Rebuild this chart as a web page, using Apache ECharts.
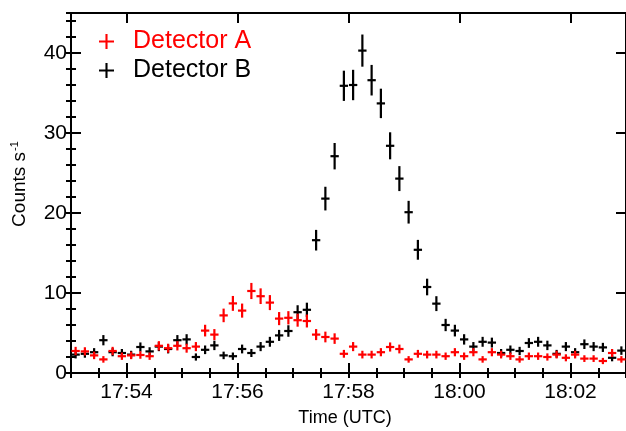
<!DOCTYPE html>
<html>
<head>
<meta charset="utf-8">
<script src="https://cdn.jsdelivr.net/npm/echarts@6/dist/echarts.min.js"></script>
<style>
html,body{margin:0;padding:0;background:#fff;}
#chart{width:626px;height:431px;}
</style>
</head>
<body>
<div id="chart"></div>
<script>
// ---- data (10-s bins) ----
const times = [
 "17:53:05","17:53:15","17:53:25","17:53:35","17:53:45","17:53:55",
 "17:54:05","17:54:15","17:54:25","17:54:35","17:54:45","17:54:55",
 "17:55:05","17:55:15","17:55:25","17:55:35","17:55:45","17:55:55",
 "17:56:05","17:56:15","17:56:25","17:56:35","17:56:45","17:56:55",
 "17:57:05","17:57:15","17:57:25","17:57:35","17:57:45","17:57:55",
 "17:58:05","17:58:15","17:58:25","17:58:35","17:58:45","17:58:55",
 "17:59:05","17:59:15","17:59:25","17:59:35","17:59:45","17:59:55",
 "18:00:05","18:00:15","18:00:25","18:00:35","18:00:45","18:00:55",
 "18:01:05","18:01:15","18:01:25","18:01:35","18:01:45","18:01:55",
 "18:02:05","18:02:15","18:02:25","18:02:35","18:02:45","18:02:55"
];
const detectorA = [
 2.75,2.7,2.2,1.7,2.75,2.1, 2.2,2.25,2.1,3.4,3.1,3.4,
 3.1,3.3,5.3,4.8,7.2,8.7, 7.8,10.25,9.6,8.8,6.8,6.9,
 6.6,6.5,4.8,4.5,4.3,2.4, 3.3,2.3,2.3,2.6,3.25,3.0,
 1.7,2.4,2.3,2.3,2.1,2.6, 2.1,2.6,1.7,2.6,2.3,2.1,
 1.7,2.1,2.1,2.0,2.3,1.9, 2.3,1.8,1.8,1.5,2.5,1.7
];
const detectorAErr = [
 0.52,0.52,0.47,0.41,0.52,0.46, 0.47,0.47,0.46,0.58,0.56,0.58,
 0.56,0.57,0.73,0.69,0.85,0.93, 0.88,1.01,0.98,0.94,0.82,0.83,
 0.81,0.81,0.69,0.67,0.66,0.49, 0.57,0.48,0.48,0.51,0.57,0.55,
 0.41,0.49,0.48,0.48,0.46,0.51, 0.46,0.51,0.41,0.51,0.48,0.46,
 0.41,0.46,0.46,0.45,0.48,0.44, 0.48,0.42,0.42,0.39,0.50,0.41
];
const detectorB = [
 2.3,2.4,2.6,4.1,2.6,2.5, 2.3,3.25,2.7,3.3,3.0,4.1,
 4.2,2.0,2.9,3.45,2.2,2.1, 3.0,2.5,3.3,3.9,4.7,5.25,
 7.6,7.9,16.6,21.8,27.1,35.9, 36.0,40.3,36.6,33.7,28.4,24.3,
 20.1,15.4,10.75,8.67,6.0,5.3, 4.2,3.3,3.9,3.8,2.5,2.9,
 2.75,3.75,3.9,3.45,2.4,3.3, 2.6,3.6,3.3,3.2,1.9,2.8
];
const detectorBErr = [
 0.48,0.49,0.51,0.64,0.51,0.50, 0.48,0.57,0.52,0.57,0.55,0.64,
 0.65,0.45,0.54,0.59,0.47,0.46, 0.55,0.50,0.57,0.62,0.69,0.72,
 0.87,0.89,1.29,1.48,1.65,1.89, 1.90,2.01,1.91,1.84,1.69,1.56,
 1.42,1.24,1.04,0.93,0.77,0.73, 0.65,0.57,0.62,0.62,0.50,0.54,
 0.52,0.61,0.62,0.59,0.49,0.57, 0.51,0.60,0.57,0.57,0.44,0.53
];
const xTickLabels = ["17:54","17:56","17:58","18:00","18:02"];
const yTickLabels = ["0","10","20","30","40"];
const xStart = "17:53:00";
const xEnd = "18:03:00";

// ---- helpers ----
function toSec(s){
  const p = s.split(":").map(Number);
  return p[0]*3600 + p[1]*60 + (p[2]||0);
}
const t0 = toSec(xStart);
const rel = s => toSec(s) - t0;
const xMax = rel(xEnd);
const xMajor = xTickLabels.map(rel);
const yMajor = yTickLabels.map(Number);

const FONT = "'Liberation Sans', Arial, Helvetica, sans-serif";
const HALF_BIN = 4.5;

function mkData(vals, errs){
  return times.map((t,i)=>[rel(t), vals[i], errs[i]]);
}
function renderItem(params, api){
  const t = api.value(0), v = api.value(1), e = api.value(2);
  const c = api.coord([t, v]);
  const l = api.coord([t - HALF_BIN, v]);
  const r = api.coord([t + HALF_BIN, v]);
  const top = api.coord([t, v + e]);
  const bot = api.coord([t, v - e]);
  const style = {stroke: api.visual('color'), lineWidth: 2.2, lineCap: 'butt'};
  return {type:'group', children:[
    {type:'line', shape:{x1:l[0], y1:c[1], x2:r[0], y2:c[1]}, style: style},
    {type:'line', shape:{x1:c[0], y1:top[1], x2:c[0], y2:bot[1]}, style: style}
  ]};
}

const axisLineStyle = {show:true, onZero:false, lineStyle:{color:'#000', width:2}};
function xAx(pos, major){
  const a = {type:'value', min:0, max:xMax, position:pos,
    axisLine: axisLineStyle, splitLine:{show:false},
    axisTick:{show:true, inside:true, length: major?10:5, lineStyle:{color:'#000', width:2}},
    axisLabel:{show:false}};
  if (major){
    a.axisTick.customValues = xMajor;
    if (pos === 'bottom'){
      a.axisLabel = {show:true, customValues:xMajor, color:'#000', fontSize:21, fontFamily:FONT, margin:9,
        formatter: v => xTickLabels[xMajor.indexOf(v)]};
    }
  } else {
    a.interval = 30;
    a.axisLine = {show:false};
  }
  return a;
}
function yAx(pos, major){
  const a = {type:'value', min:0, max:45, position:pos,
    axisLine: axisLineStyle, splitLine:{show:false},
    axisTick:{show:true, inside:true, length: major?10:5, lineStyle:{color:'#000', width:2}},
    axisLabel:{show:false}};
  if (major){
    a.axisTick.customValues = yMajor;
    if (pos === 'left'){
      a.axisLabel = {show:true, customValues:yMajor, color:'#000', fontSize:21, fontFamily:FONT, margin:4,
        formatter: v => yTickLabels[yMajor.indexOf(v)]};
    }
  } else {
    a.interval = 2;
    a.axisLine = {show:false};
  }
  return a;
}

const PLUS = 'path://M4.3,0h1.4v4.3h4.3v1.4h-4.3v4.3h-1.4v-4.3h-4.3v-1.4h4.3z';
const chart = echarts.init(document.getElementById('chart'), null, {renderer:'canvas'});
chart.setOption({
  animation:false,
  backgroundColor:'#fff',
  grid:{left:71, top:13, width:558, height:360, containLabel:false},
  xAxis:[xAx('bottom',true), xAx('bottom',false), xAx('top',true), xAx('top',false)],
  yAxis:[yAx('left',true), yAx('left',false), yAx('right',true), yAx('right',false)],
  legend:{
    orient:'vertical', left:99, top:28, itemGap:2, padding:0,
    itemWidth:15, itemHeight:15,
    data:[
      {name:'Detector A', icon:PLUS, textStyle:{color:'#ff0000'}},
      {name:'Detector B', icon:PLUS, textStyle:{color:'#000'}}
    ],
    textStyle:{fontSize:25, fontFamily:FONT, lineHeight:27, padding:[0,0,0,14]},
    selectedMode:false
  },
  graphic:[
    {type:'text', x:345, y:418, style:{text:'Time (UTC)', font:'18px '+FONT, fill:'#000', align:'center', verticalAlign:'middle'}},
    {type:'text', x:20, y:184, rotation:Math.PI/2,
      style:{text:'{a|Counts s}{b|-1}', align:'center', verticalAlign:'middle', fill:'#000',
        rich:{a:{fontSize:19, fontFamily:FONT, fill:'#000'}, b:{fontSize:11, fontFamily:FONT, fill:'#000', padding:[0,0,10,1]}}}}
  ],
  series:[
    {name:'Detector B', type:'custom', xAxisIndex:0, yAxisIndex:0, color:'#000000',
      renderItem: renderItem, data: mkData(detectorB, detectorBErr), encode:{x:0, y:1}, clip:true},
    {name:'Detector A', type:'custom', xAxisIndex:0, yAxisIndex:0, color:'#ff0000',
      renderItem: renderItem, data: mkData(detectorA, detectorAErr), encode:{x:0, y:1}, clip:true}
  ]
});
</script>
</body>
</html>
